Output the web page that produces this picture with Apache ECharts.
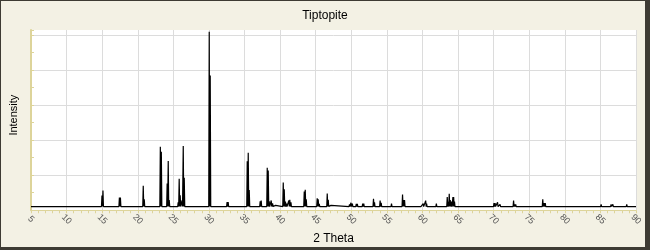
<!DOCTYPE html>
<html>
<head>
<meta charset="utf-8">
<script src="https://cdn.jsdelivr.net/npm/echarts@6/dist/echarts.min.js"></script>
<style>
html,body{margin:0;padding:0;background:#f3f1e4;}
#chart{width:650px;height:250px;}
</style>
</head>
<body>
<div id="chart"></div>
<script>
// Peak positions (2 Theta, degrees)
const peakPositions = [
  8.68, 14.97, 15.11, 17.42, 17.56, 20.77, 20.91, 23.17, 23.31, 24.13, 24.28, 24.42,
  25.68, 25.82, 25.96, 26.22, 26.39, 26.53, 30.04, 30.18, 31.87, 32.55, 32.70,
  35.38, 35.52, 35.66, 37.20, 37.34, 38.19, 38.33, 38.47, 38.75, 38.94, 39.36,
  40.44, 40.58, 40.75, 40.90, 41.22, 41.36, 41.52, 43.39, 43.53, 43.67,
  45.21, 45.35, 45.50, 46.62, 46.76, 47.00, 47.15, 49.75, 49.95, 50.15, 50.35,
  50.70, 50.85, 51.60, 51.75, 53.12, 53.26, 54.05, 54.20, 55.65, 55.80,
  57.20, 57.34, 57.48, 58.98, 59.85, 60.10, 60.45, 60.58, 61.25, 61.95,
  63.48, 63.62, 63.76, 63.90, 64.08, 64.28, 64.38, 64.50, 64.82, 67.90,
  68.60, 68.72, 70.05, 70.20, 70.55, 70.90, 72.80, 72.95, 73.10, 75.15,
  76.90, 77.10, 77.25, 77.50, 78.45, 78.80, 80.40, 81.10, 82.97,
  85.10, 85.60, 86.50, 86.75, 87.75, 88.05, 88.40, 88.70, 89.05, 89.40, 89.75
];
// Peak top intensities (axis units)
const peakIntensities = [
  2.7, 8.4, 11.2, 7.3, 7.3, 14.0, 6.2, 36.2, 33.4, 15.3, 28.1, 5.8,
  4.5, 17.9, 8.6, 5.7, 36.7, 18.5, 101.8, 76.8, 2.8, 4.7, 4.7,
  27.9, 32.8, 11.5, 5.1, 5.6, 24.3, 22.6, 5.1, 5.6, 4.0, 2.8,
  15.8, 11.9, 5.0, 3.8, 5.6, 6.0, 4.5, 10.7, 11.7, 6.2,
  6.8, 6.2, 3.6, 9.6, 6.0, 2.8, 2.8, 3.4, 4.3, 3.8, 3.2,
  3.6, 3.6, 3.8, 3.8, 6.6, 4.5, 5.5, 4.3, 3.8, 2.9,
  9.0, 5.8, 5.8, 3.2, 2.9, 3.8, 5.5, 3.8, 2.6, 3.8,
  7.5, 4.8, 9.4, 5.8, 5.0, 7.5, 7.5, 5.0, 3.2, 2.6,
  2.6, 2.6, 4.1, 4.1, 4.5, 3.4, 5.6, 3.4, 3.4, 2.6,
  6.2, 4.1, 4.1, 2.9, 3.2, 2.9, 2.6, 2.6, 2.4,
  3.4, 2.6, 3.4, 3.4, 2.9, 3.2, 2.6, 3.4, 2.9, 3.2, 2.9
];
const baselineIntensity = 2.1;
const xRange = [5, 90];
const xTickStep = 5;
const yRange = [0, 102.8];
const yTickStep = 20;

const PEAK_HALF_WIDTH = 0.07;
const r3 = v => Math.round(v * 1000) / 1000;
const lineData = [[xRange[0], baselineIntensity]];
peakPositions.forEach((p, i) => {
  lineData.push([r3(p - PEAK_HALF_WIDTH), baselineIntensity]);
  lineData.push([p, peakIntensities[i]]);
  lineData.push([r3(p + PEAK_HALF_WIDTH), baselineIntensity]);
});
lineData.push([xRange[1], baselineIntensity]);

const AXIS_YELLOW = '#ddd49a';
const FONT = 'Liberation Sans';
const chart = echarts.init(document.getElementById('chart'), null, {renderer: 'canvas'});
chart.setOption({
  animation: false,
  backgroundColor: '#f3f1e4',
  title: {
    text: 'Tiptopite', left: 'center', top: 5,
    textStyle: {fontFamily: FONT, fontSize: 12, fontWeight: 'normal', color: '#000'}
  },
  grid: {left: 31, right: 14, top: 30, bottom: 38, show: true, backgroundColor: '#ffffff', borderWidth: 0},
  xAxis: {
    type: 'value', min: xRange[0], max: xRange[1], interval: xTickStep,
    name: '2 Theta', nameLocation: 'middle', nameGap: 17,
    nameTextStyle: {fontFamily: FONT, fontSize: 12, color: '#000'},
    axisLine: {show: true, lineStyle: {color: AXIS_YELLOW, width: 1}},
    axisTick: {show: true, length: 3, lineStyle: {color: AXIS_YELLOW}},
    minorTick: {show: true, splitNumber: 5, length: 3, lineStyle: {color: AXIS_YELLOW}},
    axisLabel: {rotate: -45, margin: 9, align: 'center', verticalAlign: 'middle',
      fontFamily: FONT, fontSize: 9, color: '#555'},
    splitLine: {show: true, lineStyle: {color: '#dcdcdc', width: 1}}
  },
  yAxis: {
    type: 'value', min: yRange[0], max: yRange[1], interval: yTickStep,
    name: 'Intensity', nameLocation: 'middle', nameGap: 12,
    nameTextStyle: {fontFamily: FONT, fontSize: 11, color: '#000', padding: [0, 0, 0, 10]},
    axisLine: {show: true, lineStyle: {color: AXIS_YELLOW, width: 2}},
    axisTick: {show: true, inside: true, length: 3, lineStyle: {color: AXIS_YELLOW}},
    minorTick: {show: true, splitNumber: 2, length: 3, lineStyle: {color: AXIS_YELLOW}},
    axisLabel: {show: false},
    splitLine: {show: true, showMinLine: false, showMaxLine: false, lineStyle: {color: '#dcdcdc', width: 1}}
  },
  series: [{
    type: 'line', data: lineData, showSymbol: false, symbol: 'none',
    smooth: false, sampling: null, connectNulls: false,
    lineStyle: {color: '#000', width: 1.2}, z: 5
  }],
  graphic: [
    {type: 'rect', shape: {x: 0, y: 0, width: 650, height: 1}, style: {fill: '#3d3b33'}, z: 100},
    {type: 'rect', shape: {x: 0, y: 0, width: 1, height: 250}, style: {fill: '#3d3b33'}, z: 100},
    {type: 'rect', shape: {x: 645, y: 0, width: 5, height: 250}, style: {fill: '#3d3b33'}, z: 100},
    {type: 'rect', shape: {x: 0, y: 247, width: 650, height: 3}, style: {fill: '#3d3b33'}, z: 100}
  ]
});
</script>
</body>
</html>
